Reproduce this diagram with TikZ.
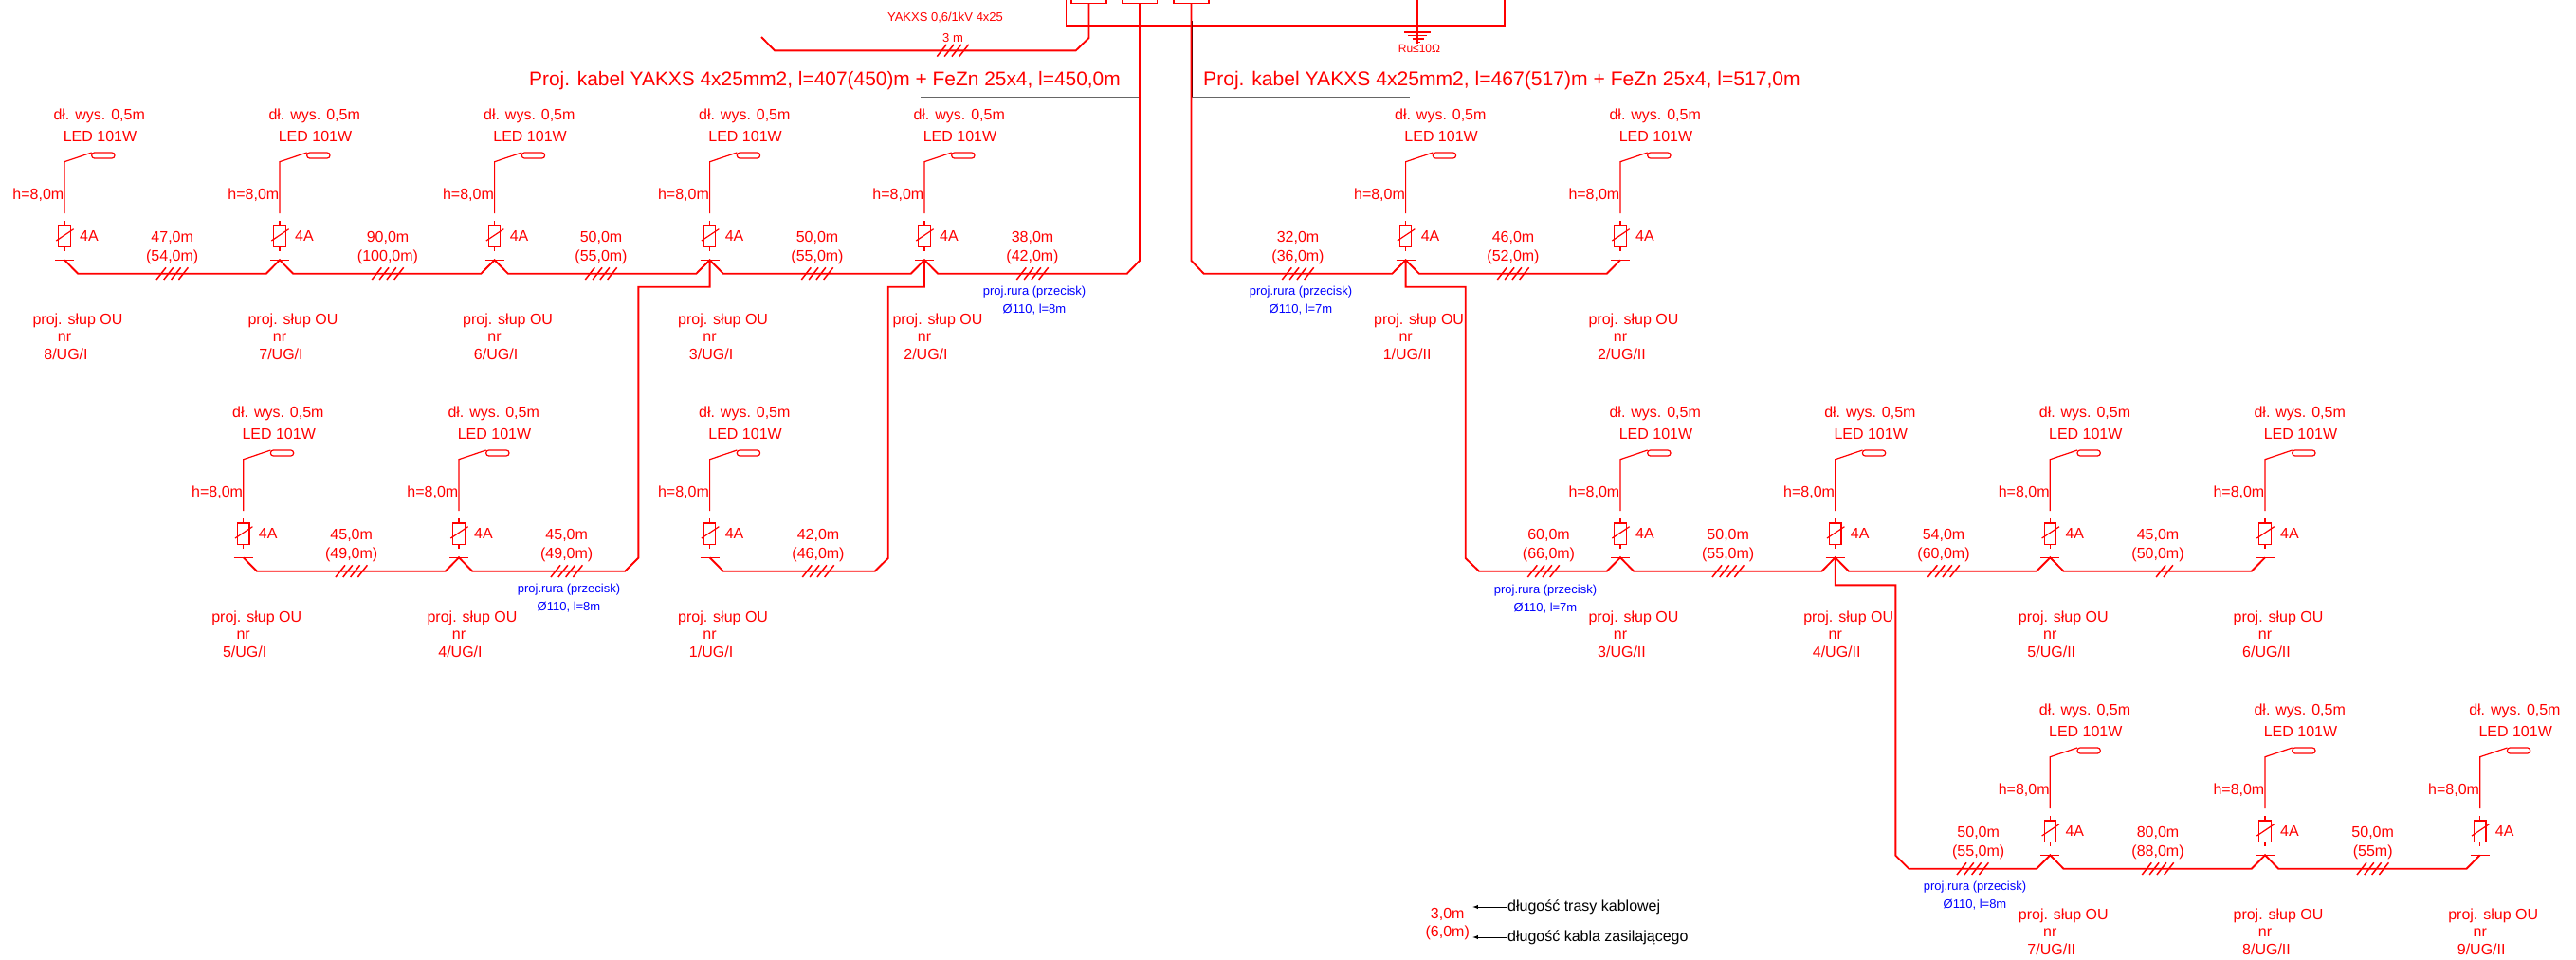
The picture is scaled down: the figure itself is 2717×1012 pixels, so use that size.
\documentclass[tikz,border=0pt]{standalone}
\usepackage{fontspec}
\setmainfont{Liberation Sans}
\usepackage{xcolor}
\definecolor{czerwony}{HTML}{FF0000}
\definecolor{niebieski}{HTML}{0000FF}

\tikzset{
    kabel/.style={czerwony,line width=1.9pt,line join=miter},
    cienka/.style={czerwony,line width=1.2pt},
    kreska/.style={czerwony,line width=1.5pt},
    tekst/.style={inner sep=0pt,text=czerwony,font=\fontsize{16}{16}\selectfont},
    maly/.style={inner sep=0pt,text=czerwony,font=\fontsize{13}{13}\selectfont},
    rurka/.style={inner sep=0pt,text=niebieski,font=\fontsize{13}{13}\selectfont},
    naglowek/.style={inner sep=0pt,anchor=west,text=czerwony,font=\fontsize{20.9}{21}\selectfont},
    legenda/.style={inner sep=0pt,anchor=west,text=black,font=\fontsize{16}{16}\selectfont},
    strzalka/.style={black,line width=0.9pt,-latex},
    szara/.style={black!60,line width=1.4pt},
    skrzynka/.style={draw=czerwony,line width=1.3pt,minimum width=37pt,minimum height=12.6pt,inner sep=0pt}
}

\newcommand{\slup}[4]{%
    \begin{scope}[shift={(#2,#3)}]
        \coordinate (#1) at (0,-14.4);
        \coordinate (#1l) at (-14.2,0);
        \coordinate (#1r) at (14.2,0);
        \draw[cienka] (-10,-14.4) -- (10,-14.4);
        \draw[cienka] (0,-63.5) -- (0,-118) -- (28.7,-127.7);
        \draw[cienka,rounded corners=2.9pt] (28.7,-127.7) rectangle (53,-121.7);
        \draw[cienka] (0,-55.7) -- (0,-50.7);
        \draw[cienka] (-6.2,-50.7) rectangle (6.2,-28);
        \draw[cienka] (0,-28) -- (0,-23.7);
        \draw[cienka] (-8.7,-34.7) -- (9.7,-47);
        \node[tekst] (#1dl) at (36.7,-166.2) {dł. wys. 0,5m};
        \node[tekst] (#1led) at (37.5,-144.7) {LED 101W};
        \node[tekst,anchor=east] (#1h) at (-0.5,-82.5) {h=8,0m};
        \node[tekst] (#1a) at (26,-39.7) {4A};
        \node[tekst] (#1opis) at (14,49.8) {proj. słup OU};
        \node[tekst] (#1nr) at (0,67) {nr};
        \node[tekst] (#1numer) at (1.5,85.3) {#4};
    \end{scope}
}

\newcommand{\odcinek}[7]{%
    \node[tekst] (#1a) at (#2,#3-37.7) {#4};
    \node[tekst] (#1b) at (#2,#3-17.7) {#5};
    \begin{scope}[shift={(#6,#3)}]
        \foreach \k in {1,...,#7}
            \draw[kreska] ({(\k-(#7+1)/2)*7.8-5},6.3) -- ++(10,-12.7);
    \end{scope}
}

\newcommand{\rura}[4]{%
    \node[rurka] (#1a) at (#2,#3) {proj.rura (przecisk)};
    \node[rurka] (#1b) at (#2,#3+19) {Ø110, l=#4};
}

\begin{document}
\begin{tikzpicture}[x=1pt,y=-1pt]
    \clip (0,0) rectangle (2717,1012);

    \slup{L8}{68}{288.7}{8/UG/I}
    \slup{L7}{295}{288.7}{7/UG/I}
    \slup{L6}{521.6}{288.7}{6/UG/I}
    \slup{L3}{748.6}{288.7}{3/UG/I}
    \slup{L2}{975}{288.7}{2/UG/I}
    \slup{L5}{256.7}{602.7}{5/UG/I}
    \slup{L4}{484}{602.7}{4/UG/I}
    \slup{L1}{748.6}{602.7}{1/UG/I}
    \slup{P1}{1482.6}{288.7}{1/UG/II}
    \slup{P2}{1709}{288.7}{2/UG/II}
    \slup{P3}{1709}{602.7}{3/UG/II}
    \slup{P4}{1935.7}{602.7}{4/UG/II}
    \slup{P5}{2162.3}{602.7}{5/UG/II}
    \slup{P6}{2389}{602.7}{6/UG/II}
    \slup{P7}{2162.3}{916.7}{7/UG/II}
    \slup{P8}{2389}{916.7}{8/UG/II}
    \slup{P9}{2615.7}{916.7}{9/UG/II}

    \odcinek{a1}{181.7}{288.7}{47,0m}{(54,0m)}{181.7}{4}
    \odcinek{a2}{409}{288.7}{90,0m}{(100,0m)}{409}{4}
    \odcinek{a3}{634}{288.7}{50,0m}{(55,0m)}{634}{4}
    \odcinek{a4}{862}{288.7}{50,0m}{(55,0m)}{862}{4}
    \odcinek{a5}{1089}{288.7}{38,0m}{(42,0m)}{1089}{4}
    \odcinek{b1}{370.7}{602.7}{45,0m}{(49,0m)}{370.7}{4}
    \odcinek{b2}{597.7}{602.7}{45,0m}{(49,0m)}{597.7}{4}
    \odcinek{b3}{863}{602.7}{42,0m}{(46,0m)}{863}{4}
    \odcinek{c1}{1369}{288.7}{32,0m}{(36,0m)}{1369}{4}
    \odcinek{c2}{1596}{288.7}{46,0m}{(52,0m)}{1596}{4}
    \odcinek{d1}{1633.5}{602.7}{60,0m}{(66,0m)}{1628}{4}
    \odcinek{d2}{1822.7}{602.7}{50,0m}{(55,0m)}{1822.7}{4}
    \odcinek{d3}{2050}{602.7}{54,0m}{(60,0m)}{2050}{4}
    \odcinek{d4}{2276}{602.7}{45,0m}{(50,0m)}{2283}{2}
    \odcinek{e1}{2086.7}{916.7}{50,0m}{(55,0m)}{2080.7}{4}
    \odcinek{e2}{2276}{916.7}{80,0m}{(88,0m)}{2276}{4}
    \odcinek{e3}{2502.7}{916.7}{50,0m}{(55m)}{2502.7}{4}

    \rura{r1}{1091}{308}{8m}
    \rura{r2}{1372}{308}{7m}
    \rura{r3}{600}{622}{8m}
    \rura{r4}{1630}{622.7}{7m}
    \rura{r5}{2083}{936}{8m}

    \node[skrzynka] (F1) at (1148.5,-3) {};
    \node[skrzynka] (F2) at (1202,-3) {};
    \node[skrzynka] (F3) at (1256.5,-3) {};

    \coordinate (B1) at (1124.4,-5);
    \coordinate (B2) at (1124.4,27);
    \coordinate (B3) at (1587,27);
    \coordinate (B4) at (1587,-5);
    \coordinate (R1) at (1495,-5);
    \coordinate (R2) at (1495,46);
    \draw[kreska,line width=1.6pt] (B1) -- (B2) -- (B3) -- (B4);
    \draw[kreska,line width=1.6pt] (R1) -- (R2);
    \draw[kreska,line width=1.6pt] (1481,33.7) -- (1509,33.7);
    \draw[kreska] (1485,37.3) -- (1505,37.3);
    \draw[kreska] (1489.5,41) -- (1501.5,41);
    \draw[kreska] (1492.5,44.3) -- (1497.5,44.3);
    \node[tekst,font=\fontsize{12}{12}\selectfont] (Ru) at (1497,51.5) {Ru≤10Ω};

    \coordinate (A1) at (1134.8,53.3);
    \coordinate (A2) at (1148.5,40);
    \coordinate (A3) at (817,53.3);
    \coordinate (A4) at (803,39);
    \draw[kabel] (F1.south) -- (A2) -- (A1) -- (A3) -- (A4);
    \node[maly] (Y1) at (997,18.3) {YAKXS 0,6/1kV 4x25};
    \node[maly] (Y2) at (1005,40) {3 m};
    \begin{scope}[shift={(1005,53.3)}]
        \foreach \k in {1,...,4}
            \draw[kreska] ({(\k-2.5)*7.8-5},6.3) -- ++(10,-12.7);
    \end{scope}

    \node[naglowek] (H1) at (558,85) {Proj. kabel YAKXS 4x25mm2, l=407(450)m + FeZn 25x4, l=450,0m};
    \node[naglowek,font=\fontsize{21.1}{21}\selectfont] (H2) at (1269,85) {Proj. kabel YAKXS 4x25mm2, l=467(517)m + FeZn 25x4, l=517,0m};
    \coordinate (S1) at (971,102.7);
    \coordinate (S2) at (1202,102.7);
    \coordinate (S3) at (1256.5,102.7);
    \coordinate (S4) at (1487,102.7);
    \draw[szara] (S1) -- (S2);
    \draw[szara] (S3) -- (S4);

    \coordinate (K1) at (1188.7,288.7);
    \coordinate (K2) at (1202,275);
    \coordinate (K3) at (1269.7,288.7);
    \coordinate (K4) at (1256.5,275);
    \draw[kabel] (L8) -- (L8r) -- (L7l) -- (L7) -- (L7r) -- (L6l) -- (L6) -- (L6r) -- (L3l) -- (L3) -- (L3r) -- (L2l) -- (L2) -- (L2r) -- (K1) -- (K2) -- (F2.south);
    \draw[kabel] (F3.south) -- (K4) -- (K3) -- (P1l) -- (P1) -- (P1r) -- (P2l) -- (P2);
    \draw[czerwony!45!black,line width=0.8pt] (1256.9,22) -- (1256.9,102);

    \coordinate (C1) at (975,302.7);
    \coordinate (C2) at (936.7,302.7);
    \coordinate (C3) at (936.7,589);
    \coordinate (C4) at (922.7,602.7);
    \draw[kabel] (L2) -- (C1) -- (C2) -- (C3) -- (C4) -- (L1r) -- (L1);

    \coordinate (D1) at (748.6,302.7);
    \coordinate (D2) at (673.3,302.7);
    \coordinate (D3) at (673.3,588.7);
    \coordinate (D4) at (659.3,602.7);
    \draw[kabel] (L3) -- (D1) -- (D2) -- (D3) -- (D4) -- (L4r) -- (L4) -- (L4l) -- (L5r) -- (L5);

    \coordinate (E1) at (1482.6,302.7);
    \coordinate (E2) at (1545.7,302.7);
    \coordinate (E3) at (1545.7,589);
    \coordinate (E4) at (1560,602.7);
    \draw[kabel] (P1) -- (E1) -- (E2) -- (E3) -- (E4) -- (P3l) -- (P3) -- (P3r) -- (P4l) -- (P4) -- (P4r) -- (P5l) -- (P5) -- (P5r) -- (P6l) -- (P6);

    \coordinate (G1) at (1935.7,617.3);
    \coordinate (G2) at (1999.3,617.3);
    \coordinate (G3) at (1999.3,902.7);
    \coordinate (G4) at (2013.3,916.7);
    \draw[kabel] (P4) -- (G1) -- (G2) -- (G3) -- (G4) -- (P7l) -- (P7) -- (P7r) -- (P8l) -- (P8) -- (P8r) -- (P9l) -- (P9);

    \node[tekst] (W1) at (1526.7,965) {3,0m};
    \node[tekst] (W2) at (1526.7,984) {(6,0m)};
    \node[legenda] (T1) at (1590,957) {długość trasy kablowej};
    \node[legenda] (T2) at (1590,989) {długość kabla zasilającego};
    \coordinate (Z1) at (1553.3,957);
    \coordinate (Z2) at (1553.3,989);
    \draw[strzalka] (T1.west) -- (Z1);
    \draw[strzalka] (T2.west) -- (Z2);
\end{tikzpicture}
\end{document}
